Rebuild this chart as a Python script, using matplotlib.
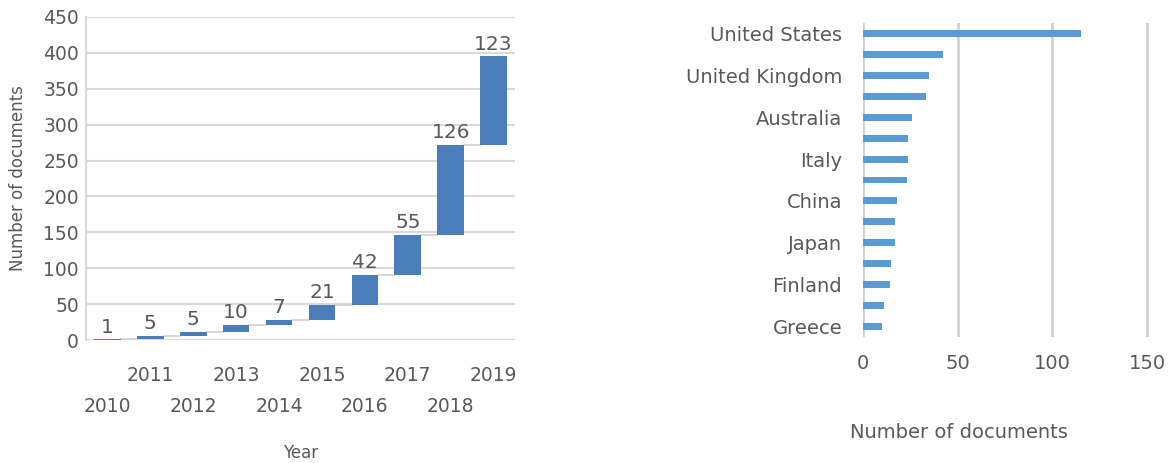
import numpy as np
import matplotlib
matplotlib.use("Agg")
import matplotlib.pyplot as plt

# yearly new documents (waterfall)
years = ["2010", "2011", "2012", "2013", "2014", "2015", "2016", "2017", "2018", "2019"]
new_docs = [1, 5, 5, 10, 7, 21, 42, 55, 126, 123]

# documents per country (only every other label is shown in the original)
countries = ["United States", "", "United Kingdom", "", "Australia", "", "Italy", "",
             "China", "", "Japan", "", "Finland", "", "Greece"]
country_docs = [115, 42, 35, 33, 26, 24, 24, 23, 18, 17, 17, 15, 14, 11, 10]

text_col = "#595959"
grid_col = "#d9d9d9"
plt.rcParams["font.family"] = ["DejaVu Sans"]

fig = plt.figure(figsize=(11.74, 4.63), dpi=100)

# ---- left: waterfall ----
ax1 = fig.add_axes([86 / 1174, 1 - 340 / 463, (515 - 86) / 1174, (340 - 17) / 463])
x = np.arange(len(years))
cum = np.cumsum(new_docs)
bottoms = cum - np.array(new_docs)
w = 0.62
ax1.bar(x, new_docs, bottom=bottoms, width=w, color="#4a7ebb", zorder=3)
for i in range(len(years) - 1):
    ax1.plot([i + w / 2, i + 1 - w / 2], [cum[i], cum[i]], color="#d0d0d0", lw=1.2, zorder=2)
for i, v in enumerate(new_docs):
    ax1.annotate(str(v), (x[i], cum[i]), xytext=(0, 2), textcoords="offset points",
                 ha="center", va="bottom", fontsize=14.5, color=text_col)

ax1.set_xlim(-0.5, len(years) - 0.5)
ax1.set_ylim(0, 450)
ax1.set_yticks(range(0, 451, 50))
ax1.yaxis.grid(True, color=grid_col, lw=1.5, zorder=0)
ax1.set_axisbelow(True)
for s in ["top", "right", "bottom"]:
    ax1.spines[s].set_visible(False)
ax1.spines["left"].set_color(grid_col)
ax1.spines["left"].set_linewidth(1.5)
ax1.set_xticks(x)
ax1.set_xticklabels([("\n" + y) if i % 2 == 0 else y for i, y in enumerate(years)])
for lbl in ax1.get_xticklabels():
    lbl.set_linespacing(1.8)
ax1.tick_params(axis="x", length=0, pad=19, labelsize=13.5, colors=text_col)
ax1.tick_params(axis="y", length=0, pad=5, labelsize=13.5, colors=text_col)
ax1.set_xlabel("Year", fontsize=12, color=text_col, labelpad=20)
ax1.set_ylabel("Number of documents", fontsize=12, color=text_col, labelpad=12)

# ---- right: horizontal bars ----
ax2 = fig.add_axes([863 / 1174, 1 - 337 / 463, (1150 - 863) / 1174, (337 - 23) / 463])
y = np.arange(len(countries))
ax2.barh(y, country_docs, height=0.33, color="#5b9bd5", zorder=3)
ax2.set_ylim(len(countries) - 0.5, -0.5)
ax2.set_xlim(0, 151.5)
ax2.set_xticks([0, 50, 100, 150])
ax2.xaxis.grid(True, color="#d0d0d0", lw=2, zorder=0)
ax2.set_axisbelow(True)
for s in ax2.spines.values():
    s.set_visible(False)
ax2.set_yticks(y)
ax2.set_yticklabels(countries)
ax2.tick_params(axis="y", length=0, pad=15, labelsize=14, colors=text_col)
ax2.tick_params(axis="x", length=0, pad=12, labelsize=14, colors=text_col)
ax2.set_xlabel("Number of documents", fontsize=14, color=text_col)
ax2.xaxis.set_label_coords((959 - 863) / (1150 - 863), -0.275)

fig.savefig("out.png", dpi=100, facecolor="white")
